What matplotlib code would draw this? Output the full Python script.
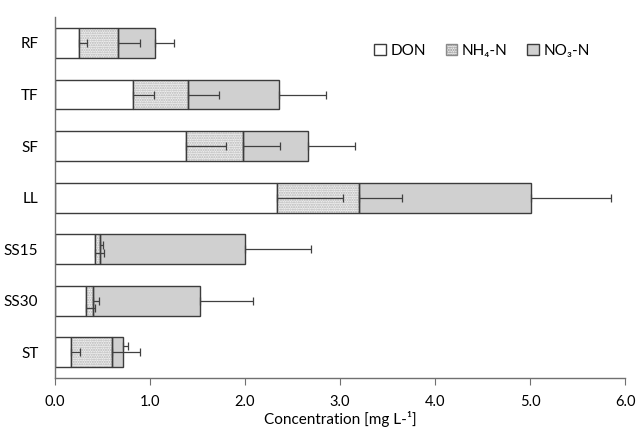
import numpy as np
import matplotlib
matplotlib.use("Agg")
import matplotlib.pyplot as plt
from matplotlib.patches import Patch

plt.rcParams['font.family'] = ['Lato', 'DejaVu Sans']
plt.rcParams['font.size'] = 10.5

sites = ["RF", "TF", "SF", "LL", "SS15", "SS30", "ST"]
don = [0.25, 0.82, 1.38, 2.34, 0.42, 0.33, 0.17]
nh4 = [0.41, 0.58, 0.60, 0.86, 0.05, 0.07, 0.43]
no3 = [0.39, 0.96, 0.68, 1.81, 1.53, 1.13, 0.12]
don_err = [0.09, 0.22, 0.42, 0.69, 0.10, 0.09, 0.09]
nh4_err = [0.23, 0.33, 0.39, 0.45, 0.04, 0.06, 0.29]
no3_err = [0.20, 0.49, 0.50, 0.84, 0.69, 0.55, 0.05]

# small vertical shifts of the error bars so they do not overlap
don_shift = [0, 0, 0, 0, 0.08, 0.14, 0]
nh4_shift = [0, 0, 0, 0, -0.08, 0, 0]
no3_shift = [0, 0, 0, 0, 0, 0, -0.12]

edge = '#3c3c3c'
y = np.arange(len(sites))
h = 0.58

fig = plt.figure(figsize=(6.36, 4.30), dpi=100)
ax = fig.add_axes([0.0865, 0.121, 0.8965, 0.839])

don = np.array(don)
nh4 = np.array(nh4)
no3 = np.array(no3)
left_nh4 = don
left_no3 = don + nh4

ax.barh(y, don, height=h, color='white', edgecolor=edge, linewidth=1.0, zorder=2)
ax.barh(y, nh4, left=left_nh4, height=h, color='#f0f0f0', edgecolor='#b4b4b4',
        hatch='.......', linewidth=0, zorder=2)
ax.barh(y, nh4, left=left_nh4, height=h, fill=False, edgecolor=edge, linewidth=1.0, zorder=3)
ax.barh(y, no3, left=left_no3, height=h, color='#d0d0d0', edgecolor=edge, linewidth=1.0, zorder=2)

eb = dict(fmt='none', ecolor='#404040', elinewidth=0.9, capsize=3, capthick=0.9, zorder=4)
ax.errorbar(don, y + np.array(don_shift), xerr=[np.zeros(len(y)), don_err], **eb)
ax.errorbar(left_no3, y + np.array(nh4_shift), xerr=[np.zeros(len(y)), nh4_err], **eb)
ax.errorbar(left_no3 + no3, y + np.array(no3_shift), xerr=[np.zeros(len(y)), no3_err], **eb)

ax.set_xlim(0, 6)
ax.set_ylim(6.5, -0.5)
ax.set_yticks(y)
ax.set_yticklabels(sites, fontsize=11)
ax.set_xticks(np.arange(0, 6.01, 1.0))
ax.set_xticklabels([f"{v:.1f}" for v in np.arange(0, 6.01, 1.0)], fontsize=10.5)
ax.tick_params(axis='y', length=0, pad=12)
ax.tick_params(axis='x', length=5, color='#707070', direction='out', pad=7)
for s in ['top', 'right']:
    ax.spines[s].set_visible(False)
for s in ['left', 'bottom']:
    ax.spines[s].set_color('#707070')
    ax.spines[s].set_linewidth(1.0)
ax.set_xlabel("Concentration [mg L-¹]", fontsize=11, labelpad=2)

handles = [Patch(facecolor='white', edgecolor=edge, label='DON'),
           Patch(facecolor='#f0f0f0', edgecolor='#8a8a8a', hatch='.......', label='NH₄-N'),
           Patch(facecolor='#d0d0d0', edgecolor=edge, label='NO₃-N')]
ax.legend(handles=handles, loc='upper right', bbox_to_anchor=(0.962, 0.965), ncol=3,
          frameon=False, handlelength=0.75, handleheight=0.75, handletextpad=0.3,
          columnspacing=1.3, fontsize=11)

fig.savefig("out.png", dpi=100)
